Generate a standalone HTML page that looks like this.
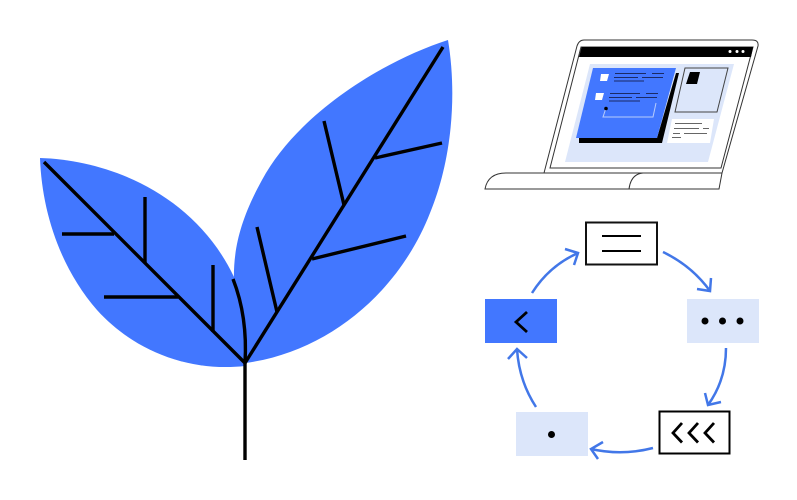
<!DOCTYPE html>
<html>
<head>
<meta charset="utf-8">
<style>html,body{margin:0;padding:0;background:#fff}svg{display:block}</style>
</head>
<body>
<svg width="797" height="500" viewBox="0 0 797 500" xmlns="http://www.w3.org/2000/svg">
<rect width="797" height="500" fill="#fff"/>
<!-- leaves -->
<path d="M448 40C380 62 297 115 262 180C240 220 233 250 234 282L245 363C330 352 400 290 430 213C450 165 458 100 448 40Z" fill="#4277ff"/>
<path d="M40 158C42 215 62 270 97 310C135 352 190 372 245 366L240 300L234 277C195 195 110 160 40 158Z" fill="#4277ff"/>
<g fill="none" stroke="#000" stroke-width="3.400">
<path d="M44 162L245 363"/>
<path d="M443 47L245 363"/>
<path d="M245 363V460"/>
<path d="M233 279C242 302 247 330 245 363"/>
<path d="M62 234H114"/>
<path d="M145 197V263"/>
<path d="M104 297H178"/>
<path d="M213 265V332"/>
<path d="M442 143L375 158"/>
<path d="M324 121L344 205"/>
<path d="M406 236L312 259"/>
<path d="M257 227L277 312"/>
</g>
<!-- laptop -->
<path d="M544 173L577 46Q579 40 584 40L752 40Q759 40 758 46L722 173L719 189H485Q488 173 506 173Z" fill="#fff" stroke="#333" stroke-width="1"/>
<path d="M544 173H722" stroke="#333" stroke-width="1" fill="none"/>
<path d="M581 47H753L721 168H550Z" fill="#fff" stroke="#333" stroke-width="1"/>
<path d="M581.500 47H753L751 57H579Z" fill="#000"/>
<circle cx="730" cy="51.500" r="1.500" fill="#fff"/><circle cx="737" cy="51.500" r="1.500" fill="#fff"/><circle cx="743" cy="51.500" r="1.500" fill="#fff"/>
<path d="M643 173Q631 174 629 189" fill="none" stroke="#333" stroke-width="1"/>
<path d="M590 64H734L708 162H565Z" fill="#dce6fa"/>
<path d="M676 73H679L662 143H579V138H657Z" fill="#000"/>
<path d="M593 68H676L657 138H576Z" fill="#4277ff"/>
<path d="M601 74H609L607 81H600Z" fill="#fff"/>
<path d="M596 93H604L602 100H595Z" fill="#fff"/>
<g stroke="#1a2a66" stroke-width="1" fill="none">
<path d="M615 73.500H646M652 73.500H664"/><path d="M614 77.500H638M642 77.500H663"/><path d="M614 81H644"/>
<path d="M610 93.500H640M646 93.500H658"/><path d="M609 97.500H632M636 97.500H657"/><path d="M609 101H640"/>
</g>
<path d="M606 108L603 117H653L656 103" fill="none" stroke="#b8ccfb" stroke-width="1"/>
<circle cx="606" cy="108.500" r="1.800" fill="#000"/>
<path d="M685 68H728L717 112H675Z" fill="#dce6fa" stroke="#444" stroke-width="1"/>
<path d="M690 72H700L697 84H686Z" fill="#000"/>
<path d="M672 119H714L710 143H667Z" fill="#fff"/>
<g stroke="#666" stroke-width="1" fill="none">
<path d="M675 123.500H702"/><path d="M674 128.500H699M703 128.500H709"/><path d="M673 133.500H680M684 133.500H707"/><path d="M672 137.500H681"/>
</g>
<!-- cycle boxes -->
<rect x="586" y="222.500" width="71" height="42" fill="#fff" stroke="#111" stroke-width="2"/>
<path d="M602 236H641M602 251H641" stroke="#000" stroke-width="2" fill="none"/>
<rect x="687" y="299" width="72" height="44" fill="#dce6fa"/>
<circle cx="705" cy="321" r="3.500" fill="#000"/><circle cx="722.500" cy="321" r="3.500" fill="#000"/><circle cx="740" cy="321" r="3.500" fill="#000"/>
<rect x="659.500" y="411.500" width="70" height="42" fill="#fff" stroke="#000" stroke-width="2"/>
<g fill="none" stroke="#000" stroke-width="2.800">
<path d="M682 423L673 433L682 442.500"/><path d="M698 423L689 433L698 442.500"/><path d="M714 423L705 433L714 442.500"/>
</g>
<rect x="516" y="412" width="72" height="44" fill="#dce6fa"/>
<circle cx="551.500" cy="434.500" r="3.500" fill="#000"/>
<rect x="485" y="299" width="72" height="44" fill="#4277ff"/>
<path d="M527 312L516 322L527 332" fill="none" stroke="#000" stroke-width="2.800"/>
<!-- arrows -->
<g fill="none" stroke="#4277e8" stroke-width="2.500">
<path d="M532 293Q549 266 578 253"/><path d="M565 249L578 253L574 265"/>
<path d="M663 252Q692 266 710 291"/><path d="M711 278L710 291L697 289"/>
<path d="M726 348Q726 380 708 405"/><path d="M705 393L708 405L721 402"/>
<path d="M653 448Q622 456 591 449"/><path d="M603 442L591 449L598 459"/>
<path d="M536 407Q519 381 517 349"/><path d="M508 359L517 349L527 358"/>
</g>
</svg>
</body>
</html>
